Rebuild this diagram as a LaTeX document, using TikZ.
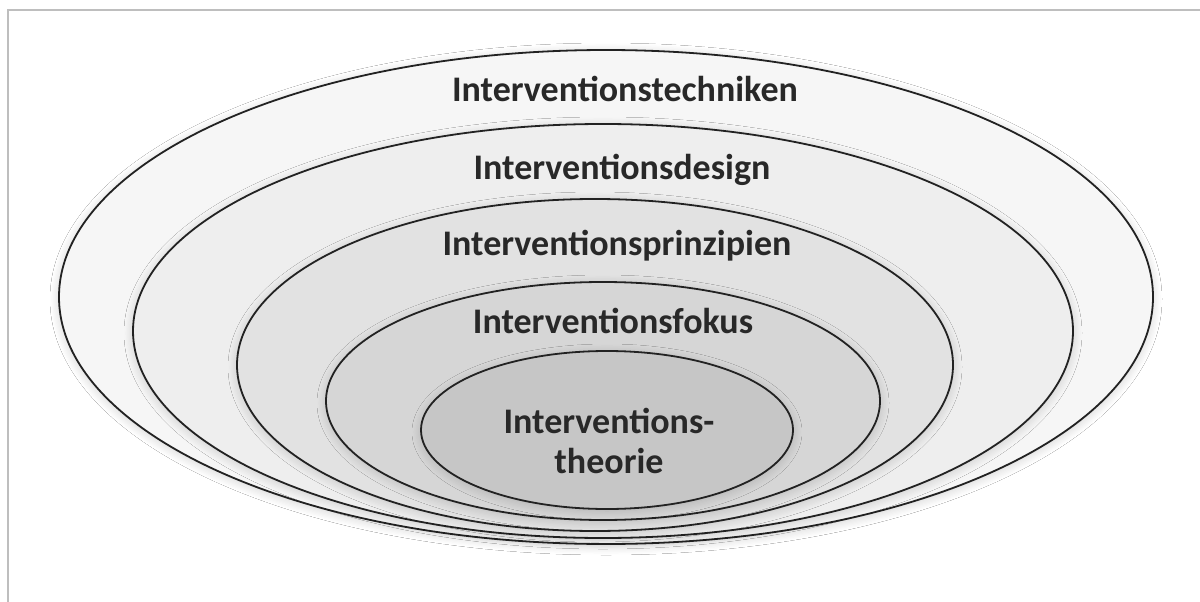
\documentclass[tikz,border=0pt]{standalone}
\usepackage{fontspec}
\setmainfont{Carlito}
\usetikzlibrary{shadows.blur}
\definecolor{cA}{RGB}{246,246,246}
\definecolor{cB}{RGB}{238,238,238}
\definecolor{cC}{RGB}{226,226,226}
\definecolor{cD}{RGB}{214,214,214}
\definecolor{cE}{RGB}{198,198,198}
\definecolor{ink}{RGB}{40,40,40}
\definecolor{framegray}{RGB}{190,190,190}
\begin{document}
\begin{tikzpicture}[x=1pt,y=-1pt,
  ring/.style={draw=ink!85!black, line width=1.8pt,
    blur shadow={shadow xshift=0pt, shadow yshift=-2pt, shadow blur radius=9pt, shadow blur steps=8, shadow opacity=18}},
  lbl/.style={anchor=base, text=ink, font=\fontsize{36}{40}\selectfont\bfseries, inner sep=0pt},
  frameline/.style={draw=framegray, line width=1.5pt}]
\useasboundingbox (0,0) rectangle (1200,602);
\fill[white] (0,0) rectangle (1200,602);
\draw[frameline] (1200,10) -- (8,10) -- (8,602);
% rings, outer to inner
\path[ring, fill=cA] (606,297) ellipse [x radius=547pt, y radius=247pt];
\path[ring, fill=cB] (603,331) ellipse [x radius=470pt, y radius=207pt];
\path[ring, fill=cC] (595,365) ellipse [x radius=358pt, y radius=166pt];
\path[ring, fill=cD] (603,401) ellipse [x radius=277pt, y radius=119pt];
\path[ring, fill=cE] (607,430) ellipse [x radius=186pt, y radius=79pt];
% labels
\node[lbl] (tech) at (625,102) {Interventionstechniken};
\node[lbl] (design) at (622,179) {Interventionsdesign};
\node[lbl] (prinz) at (617,255) {Interventionsprinzipien};
\node[lbl] (fokus) at (613,333) {Interventionsfokus};
\node[lbl] (theo1) at (609,433) {Interventions-};
\node[lbl] (theo2) at (609,473) {theorie};
\end{tikzpicture}
\end{document}
